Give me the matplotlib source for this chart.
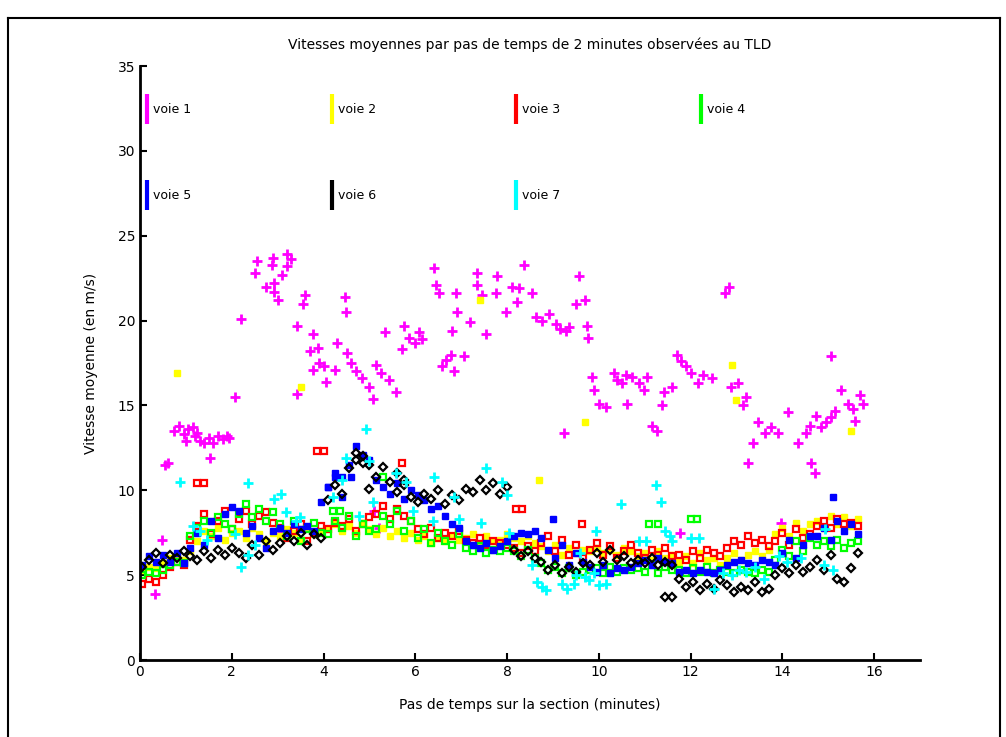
import numpy as np
import matplotlib
matplotlib.use("Agg")
import matplotlib.pyplot as plt
from matplotlib.lines import Line2D

# ---- zone 1 (magenta): free-flow speeds, scattered clusters ----
zone1_t = [0.33, 0.55, 0.62, 1.52, 0.48,
           0.75, 0.85, 0.95, 1.0, 1.05, 1.15, 1.2, 1.25, 1.3, 1.4, 1.5, 1.6, 1.7, 1.8, 1.9, 1.95,
           2.07, 2.2,
           2.54, 2.5, 2.74, 2.93, 2.93, 3.0, 2.87, 2.9, 3.2, 3.3, 3.2, 3.09, 3.59, 3.55,
           3.43, 3.43, 3.1,
           3.76, 3.87, 3.7, 3.91, 3.76, 4.02, 4.26, 4.06, 4.46, 4.5, 4.3, 4.52, 4.6, 4.7, 4.84, 5.0,
           5.07, 5.26, 5.43, 5.58, 5.15, 5.1, 5.2,
           5.35, 5.76, 5.87, 6.09, 6.15, 5.7, 6.0,
           6.41, 6.45, 6.52, 6.91, 6.89, 7.2, 6.8, 7.54, 6.67, 6.78, 7.07, 6.59, 6.85,
           7.35, 7.78, 7.35, 7.76, 7.46, 7.98, 8.22, 8.37, 8.26, 8.54, 8.63, 8.1,
           9.57, 9.5, 9.7, 8.91, 9.06, 9.28, 8.76, 9.74, 9.76, 9.35, 9.15,
           12.83, 12.76,
           11.7, 11.91, 12.28, 12.46, 11.59, 11.43, 12.17, 13.04, 13.2, 13.15, 12.89, 11.8, 12.0,
           9.85, 9.89, 10.0, 10.15, 10.33, 10.5, 10.72, 10.87, 11.04, 10.98, 10.61, 11.37, 11.15,
           11.26, 9.24, 10.4, 10.6,
           13.48, 13.76, 13.91, 13.63, 13.37, 14.13, 14.35, 14.52, 14.74, 14.85, 15.07, 15.15,
           15.07, 15.28, 15.43, 15.54, 15.7, 15.76, 15.59, 14.95, 14.6,
           13.26, 14.63, 14.72, 11.78, 13.98]
zone1_v = [3.9, 11.5, 11.6, 11.9, 7.1,
           13.5, 13.8, 13.3, 12.9, 13.6, 13.7, 13.2, 13.4, 12.9, 12.8, 13.1, 12.8, 13.2, 13.0, 13.2, 13.1,
           15.5, 20.1,
           23.5, 22.8, 22.0, 22.2, 21.7, 21.2, 23.3, 23.7, 23.9, 23.6, 23.2, 22.7, 21.5, 21.0,
           19.7, 15.7, 7.5,
           19.2, 18.4, 18.2, 17.5, 17.1, 17.3, 17.1, 16.4, 21.4, 20.5, 18.7, 18.1, 17.5, 17.0, 16.6, 16.1,
           15.4, 16.9, 16.5, 15.8, 17.4, 8.8, 7.8,
           19.3, 19.7, 19.0, 19.3, 18.9, 18.3, 18.7,
           23.1, 22.1, 21.6, 20.5, 21.6, 19.9, 19.4, 19.2, 17.7, 18.0, 17.9, 17.3, 17.0,
           22.8, 22.6, 22.1, 21.6, 21.5, 20.5, 21.1, 23.3, 21.9, 21.6, 20.2, 22.0,
           22.6, 21.0, 21.2, 20.4, 19.8, 19.4, 20.0, 19.7, 19.0, 19.6, 19.5,
           22.0, 21.6,
           18.0, 17.3, 16.8, 16.6, 16.1, 15.8, 16.3, 16.3, 15.5, 15.0, 16.1, 17.6, 16.9,
           16.7, 15.9, 15.1, 14.9, 16.9, 16.3, 16.7, 16.3, 16.7, 15.9, 15.1, 15.0, 13.8,
           13.5, 13.4, 16.5, 16.8,
           14.0, 13.7, 13.4, 13.4, 12.8, 14.6, 12.8, 13.4, 14.4, 13.7, 14.3, 14.7,
           17.9, 15.9, 15.1, 14.8, 15.6, 15.1, 14.1, 14.0, 13.8,
           11.6, 11.6, 11.0, 7.5, 8.1]

# ---- zones 2 to 6: one speed every 0.15 min, plus isolated readings ----
zone2_v = [5.3, 5.5, 5.4, 5.7, 6.0, 6.1, 5.9,
           6.4, 7.0, 7.6, 7.3, 7.8, 7.1, 7.5, 7.6, 7.2, 7.8, 7.4, 7.0, 7.5,
           7.3, 7.7, 7.5, 7.1, 7.8, 7.4, 7.6, 7.7, 8.0, 7.6, 7.9, 7.5, 8.1, 7.7,
           7.4, 7.8, 7.3, 7.6, 7.2, 7.5, 7.1, 7.3, 6.9, 7.2, 7.0, 7.3, 7.1,
           7.2, 7.4, 6.9, 7.3, 7.0, 7.1, 7.4, 7.2, 7.0, 7.3, 6.9,
           6.7, 6.4, 6.8, 6.2, 6.6, 6.3, 6.5, 6.4, 6.6, 6.3, 6.5, 6.2, 6.6, 6.4,
           6.1, 6.3, 5.9, 6.4, 6.0, 6.2, 5.8, 6.1, 5.7, 6.3, 5.9, 6.0, 5.6,
           6.0, 6.3, 5.9, 6.2, 6.4, 6.1, 6.5, 7.4, 7.8, 7.3, 8.1, 7.6, 8.0,
           8.2, 7.8, 8.5, 8.0, 8.4, 7.9, 8.3]
zone2_extra_t = [0.8, 3.5, 7.4, 8.7, 9.7, 12.9, 13.0, 15.5]
zone2_extra_v = [16.9, 16.1, 21.2, 10.6, 14.0, 17.4, 15.3, 13.5]

zone3_v = [4.5, 4.8, 4.6, 5.0, 5.5, 5.8, 5.6,
           7.1, 7.9, 8.6, 7.4, 8.2, 8.8, 7.7, 8.3, 8.8, 8.0, 8.5, 8.7, 8.1,
           7.8, 7.2, 7.6, 8.0, 7.0, 7.5, 7.9, 7.7, 8.1, 7.9, 8.3, 7.6, 8.0, 8.4,
           8.6, 9.1, 8.3, 8.9, 8.5, 8.2, 7.7, 7.4, 7.8, 7.2, 7.5, 7.3, 7.6,
           7.1, 6.9, 7.2, 6.8, 7.0, 6.9, 6.8, 6.6, 6.3, 6.7, 6.4,
           6.9, 7.3, 6.4, 7.1, 6.2, 6.8, 6.0, 6.5, 6.9, 6.2, 6.7, 6.0, 6.4, 6.8,
           6.3, 6.0, 6.5, 6.2, 6.6, 6.1, 6.2, 5.9, 6.4, 6.0, 6.5, 6.3, 6.1,
           6.6, 7.0, 6.8, 7.3, 6.9, 7.1, 6.7, 7.0, 7.5, 6.8, 7.7, 7.2, 7.4,
           7.9, 8.2, 7.8, 8.3, 8.0, 8.1, 7.9]
zone3_extra_t = [1.25, 1.4, 3.85, 4.0, 5.7, 8.2, 8.33, 9.64]
zone3_extra_v = [10.4, 10.4, 12.3, 12.3, 11.6, 8.9, 8.9, 8.0]

zone4_v = [5.0, 5.2, 5.1, 5.3, 5.6, 5.8, 5.7,
           7.3, 7.8, 8.2, 7.5, 8.4, 8.0, 7.7, 8.6, 9.2, 8.4, 8.9, 8.2, 8.7,
           8.0, 7.3, 8.2, 7.0, 7.7, 8.1, 7.5, 7.4, 8.2, 7.8, 8.5, 7.3, 8.0, 7.6,
           7.7, 8.5, 8.0, 8.8, 7.6, 8.2, 7.2, 7.7, 6.9, 7.5, 7.0, 6.8, 7.4,
           6.6, 6.4, 6.7, 6.3, 6.5, 6.4, 6.6, 6.4, 6.1, 6.5, 6.0,
           5.7, 5.3, 5.5, 5.1, 5.4, 5.0, 5.2, 5.3, 5.4, 5.1, 5.5, 5.2, 5.4, 5.3,
           5.4, 5.2, 5.6, 5.1, 5.5, 5.3, 5.3, 5.1, 5.4, 5.2, 5.5, 5.1, 5.3,
           5.2, 5.1, 5.3, 5.2, 5.1, 5.3, 5.2, 5.9, 6.5, 6.1, 7.0, 6.4, 7.2,
           6.8, 7.0, 6.7, 7.1, 6.6, 6.9, 7.0]
zone4_extra_t = [4.2, 4.35, 5.3, 11.1, 11.3, 12.0, 12.15]
zone4_extra_v = [8.8, 8.8, 10.8, 8.0, 8.0, 8.3, 8.3]

zone5_v = [5.6, 6.1, 5.8, 6.2, 5.8, 6.3, 5.7,
           6.6, 7.5, 6.8, 8.2, 7.2, 8.6, 9.0, 8.8, 7.5, 7.9, 7.2, 6.6, 7.6,
           7.8, 7.5, 8.0, 7.7, 7.9, 7.6, 9.3, 10.2, 10.8, 9.6, 11.5, 12.6, 12.1, 11.8,
           10.6, 10.2, 9.8, 10.4, 9.5, 10.0, 9.7, 9.4, 8.9, 9.1, 8.5, 8.0, 7.8,
           7.0, 6.8, 6.6, 6.9, 6.5, 6.7, 7.0, 7.3, 7.5, 7.4, 7.6,
           7.2, 6.5, 6.0, 6.8, 5.6, 6.3, 5.8, 5.5, 5.2, 5.6, 5.1, 5.4, 5.3, 5.5,
           5.7, 5.9, 5.6, 6.0, 5.8, 5.7, 5.2, 5.3, 5.1, 5.3, 5.2, 5.1, 5.3,
           5.6, 5.8, 5.9, 5.7, 5.6, 5.9, 5.8, 5.6, 6.3, 7.1, 6.0, 6.8, 7.3,
           7.3, 7.8, 7.1, 8.2, 7.6, 8.0, 7.4]
zone5_extra_t = [9.0, 15.1, 4.1, 4.4, 4.6, 4.24]
zone5_extra_v = [8.3, 9.6, 10.2, 10.8, 10.8, 11.0]

zone6_v = [5.5, 5.9, 6.3, 5.7, 6.2, 6.0, 6.4,
           6.1, 5.9, 6.4, 6.0, 6.5, 6.2, 6.6, 6.3, 6.0, 6.8, 6.2, 7.0, 6.5,
           6.9, 7.3, 7.0, 7.5, 6.8, 7.4, 7.2, 9.4, 10.3, 9.8, 11.3, 12.2, 11.6, 10.1,
           10.8, 11.4, 10.5, 9.9, 10.3, 9.6, 9.3, 9.8, 9.5, 10.0, 9.2, 9.7, 9.4,
           10.1, 9.9, 10.6, 10.0, 10.4, 9.8, 10.2, 6.5, 6.1, 6.4, 6.0,
           5.8, 5.3, 5.6, 5.1, 5.5, 5.2, 5.7, 5.6, 6.3, 5.8, 6.5, 5.9, 6.1, 5.7,
           5.9, 5.7, 6.0, 5.6, 5.8, 5.6, 4.8, 4.3, 4.6, 4.1, 4.5, 4.2, 4.7,
           4.4, 4.0, 4.3, 4.1, 4.6, 4.0, 4.2, 5.0, 5.4, 5.1, 5.6, 5.2, 5.5,
           5.9, 5.3, 6.2, 4.8, 4.6, 5.4, 6.3]
zone6_extra_t = [4.7, 4.85, 5.0, 5.6, 5.75, 11.45, 11.6]
zone6_extra_v = [11.8, 12.0, 11.5, 11.0, 10.6, 3.7, 3.7]

# ---- zone 7 (cyan): sparse readings ----
zone7_t = [0.87, 1.16, 1.45, 2.07, 2.2, 2.36, 2.36, 2.93, 3.08, 3.19,
           3.48, 4.5, 4.78, 4.93, 5.0, 5.07, 5.58, 5.8, 5.94, 6.38,
           6.41, 6.85, 6.96, 7.43, 7.54, 7.9, 8.0, 8.04, 8.55, 8.66,
           8.77, 8.84, 9.2, 9.46, 9.6, 9.79, 9.93, 10.15, 10.48, 10.87,
           11.02, 11.24, 11.35, 11.45, 11.56, 11.6, 12.0, 12.18, 12.5, 13.05,
           13.41, 13.92, 14.93, 15.1,
           9.3, 9.5, 9.7, 9.9, 10.0, 12.7, 12.9, 13.2, 13.6, 14.1, 14.4, 14.9,
           1.3, 2.5, 3.4, 4.2, 4.4]
zone7_v = [10.5, 7.9, 7.1, 7.4, 5.5, 6.2, 10.4, 9.5, 9.8, 8.7,
           8.4, 11.9, 8.5, 13.6, 11.7, 9.3, 11.0, 10.5, 8.8, 8.2,
           10.8, 9.6, 8.3, 8.1, 11.3, 10.5, 9.7, 7.5, 5.6, 4.6,
           4.3, 4.1, 4.5, 4.5, 6.3, 4.7, 7.6, 4.5, 9.2, 7.0,
           7.0, 10.3, 9.3, 7.6, 7.3, 7.0, 7.2, 7.2, 4.2, 5.3,
           5.5, 6.1, 7.7, 5.3,
           4.2, 5.0, 4.9, 5.1, 4.4, 5.1, 5.0, 5.2, 4.8, 5.8, 6.0, 5.6,
           7.6, 6.8, 8.2, 9.6, 10.6]

labels = ["voie 1", "voie 2", "voie 3", "voie 4", "voie 5", "voie 6", "voie 7"]
colors = ["#ff00ff", "#ffff00", "#ff0000", "#00ff00", "#0000ff", "#000000", "#00ffff"]
x_ticks = [0, 2, 4, 6, 8, 10, 12, 14, 16]
y_ticks = [0, 5, 10, 15, 20, 25, 30, 35]

step = 0.15
def grid_times(vals):
    return 0.05 + step * np.arange(len(vals))

series = [
    (np.array(zone1_t), np.array(zone1_v), "+", True),
    (np.concatenate([grid_times(zone2_v), zone2_extra_t]), np.concatenate([zone2_v, zone2_extra_v]), "s", True),
    (np.concatenate([grid_times(zone3_v), zone3_extra_t]), np.concatenate([zone3_v, zone3_extra_v]), "s", False),
    (np.concatenate([grid_times(zone4_v), zone4_extra_t]), np.concatenate([zone4_v, zone4_extra_v]), "s", False),
    (np.concatenate([grid_times(zone5_v), zone5_extra_t]), np.concatenate([zone5_v, zone5_extra_v]), "s", True),
    (np.concatenate([grid_times(zone6_v), zone6_extra_t]), np.concatenate([zone6_v, zone6_extra_v]), "D", False),
    (np.array(zone7_t), np.array(zone7_v), "+", True),
]

fig = plt.figure(figsize=(10.06, 7.37), dpi=100)
ax = fig.add_axes([140 / 1006, 77 / 737, 780 / 1006, 594 / 737])

for (t, v, mk, filled), c in zip(series, colors):
    if mk == "+":
        ax.plot(t, v, linestyle="none", marker="+", ms=7, mew=2, color=c)
    elif filled:
        ax.plot(t, v, linestyle="none", marker=mk, ms=5, mew=1, color=c, mfc=c, mec=c)
    else:
        ax.plot(t, v, linestyle="none", marker=mk, ms=4.5, mew=1.6, color=c, mfc="none", mec=c)

ax.set_xlim(0, 17)
ax.set_ylim(0, 35)
ax.set_xticks(x_ticks)
ax.set_yticks(y_ticks)
ax.tick_params(direction="in", length=5, width=1.5, labelsize=10, top=False, right=False)
for side in ("top", "right"):
    ax.spines[side].set_visible(False)
for side in ("left", "bottom"):
    ax.spines[side].set_linewidth(2)

ax.set_title("Vitesses moyennes par pas de temps de 2 minutes observées au TLD", fontsize=10, pad=12)
ax.set_xlabel("Pas de temps sur la section (minutes)", fontsize=10, labelpad=14)
ax.set_ylabel("Vitesse moyenne (en m/s)", fontsize=10, labelpad=14)

handles = [Line2D([], [], linestyle="none", marker="|", ms=22, mew=3, color=c) for c in colors]
order = [0, 4, 1, 5, 2, 6, 3]
ax.legend([handles[i] for i in order], [labels[i] for i in order], ncol=4, frameon=False,
          loc="upper left", bbox_to_anchor=(0.006, 0.937), borderaxespad=0, borderpad=0,
          handlelength=0.4, handletextpad=0.3, columnspacing=11.0, labelspacing=5.8,
          fontsize=9)

# outer frame of the figure
fig.add_artist(Line2D([8 / 1006, 8 / 1006], [0, 1 - 18 / 737], color="black", lw=1.5))
fig.add_artist(Line2D([8 / 1006, 1000 / 1006], [1 - 18 / 737, 1 - 18 / 737], color="black", lw=1.5))
fig.add_artist(Line2D([1000 / 1006, 1000 / 1006], [0, 1 - 18 / 737], color="black", lw=1.5))

fig.savefig("out.png", dpi=100)
